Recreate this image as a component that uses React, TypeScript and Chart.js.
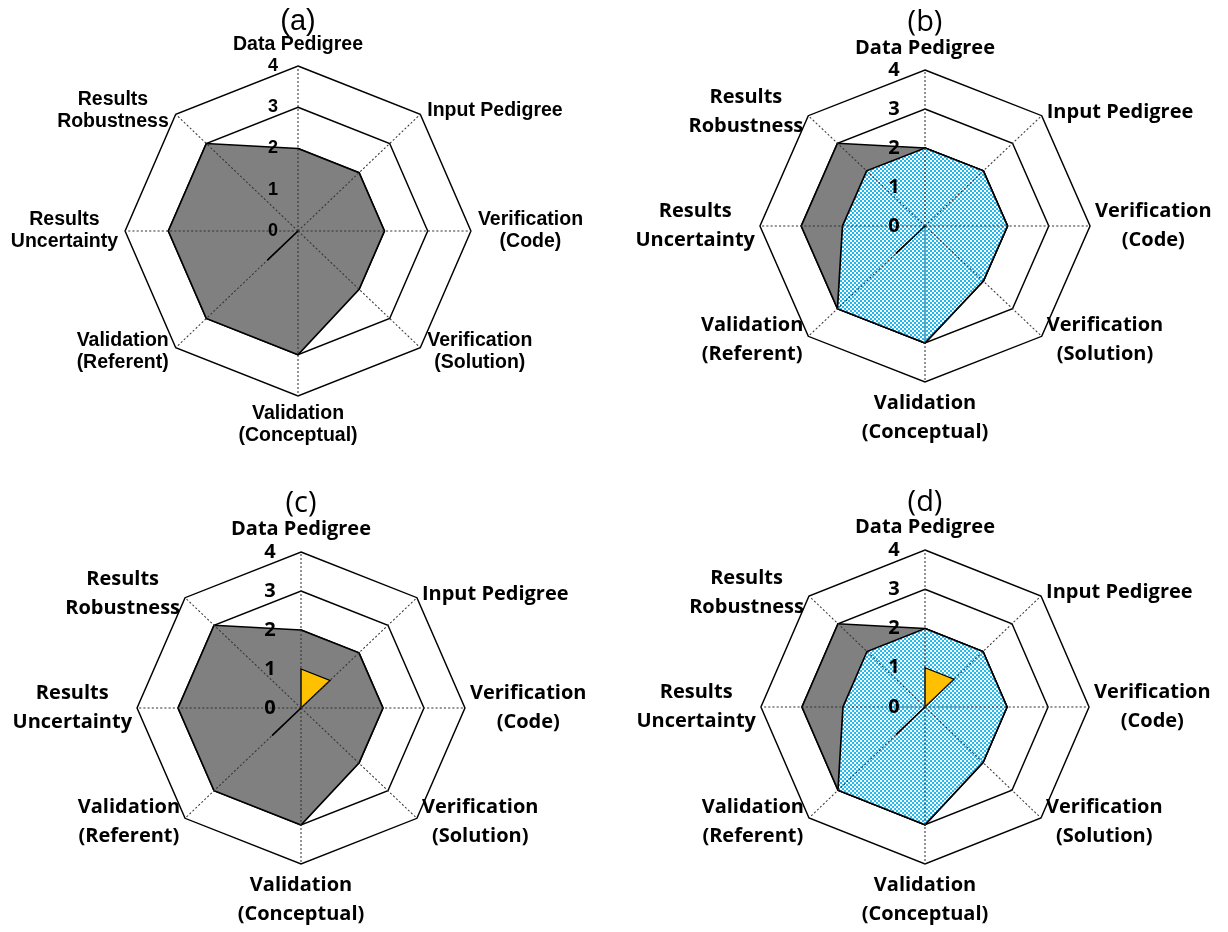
import React, { useEffect, useRef } from 'react';
import { Chart, registerables } from 'chart.js';

Chart.register(...registerables);

// ---------- data ----------
const CATEGORIES: string[][] = [
  ['Data Pedigree'],
  ['Input Pedigree'],
  ['Verification', '(Code)'],
  ['Verification', '(Solution)'],
  ['Validation', '(Conceptual)'],
  ['Validation', '(Referent)'],
  ['Results', 'Uncertainty'],
  ['Results', 'Robustness'],
];
const TICK_VALUES = [0, 1, 2, 3, 4];
const TICK_LABELS = ['0', '1', '2', '3', '4'];
const GREY_SERIES = [2, 2, 2, 2, 3, 3, 3, 3];
const BLUE_SERIES = [2, 2, 2, 2, 3, 3, 2, 2];
const YELLOW_SERIES = [1, 1, 0, 0, 0, 0, 0, 0];
const REFERENT_LINE = [0, 0, 0, 0, 0, 1, 0, 0];
const PANEL_TITLES = ['(a)', '(b)', '(c)', '(d)'];
const PANEL_SERIES: string[][] = [
  ['grey'],
  ['grey', 'blue'],
  ['grey', 'yellow'],
  ['grey', 'blue', 'yellow'],
];

// ---------- layout / style ----------
type Panel = {
  ox: number; oy: number; cx: number; cy: number; rv: number; sx: number;
  family: string; labelSize: number; lineH: number; topOff: number; botOff: number;
  gap: number; dyK: number; tickSize: number; tickDx: number;
  titleFamily: string; titleSize: number; titleY: number;
};
const W = 614;
const H = 466;
const ARIAL = '"Liberation Sans", Arial, sans-serif';
const CAL = '"Open Sans", "Noto Sans", sans-serif';
const PANELS: Panel[] = [
  { ox: 0, oy: 0, cx: 298, cy: 231, rv: 165, sx: 1.048, family: ARIAL, labelSize: 19.5, lineH: 22, topOff: 21, botOff: 18, gap: 7, dyK: 5, tickSize: 18, tickDx: -25, titleFamily: ARIAL, titleSize: 29, titleY: 21.5 },
  { ox: 614, oy: 0, cx: 925, cy: 226, rv: 156, sx: 1.058, family: CAL, labelSize: 20, lineH: 29, topOff: 22, botOff: 21, gap: 5, dyK: 5, tickSize: 20, tickDx: -31, titleFamily: CAL, titleSize: 29, titleY: 23 },
  { ox: 0, oy: 466, cx: 301, cy: 708, rv: 156, sx: 1.051, family: CAL, labelSize: 20, lineH: 29, topOff: 23, botOff: 21, gap: 5, dyK: 5, tickSize: 20, tickDx: -31, titleFamily: CAL, titleSize: 29, titleY: 503.5 - 466 },
  { ox: 614, oy: 466, cx: 925, cy: 707, rv: 157, sx: 1.045, family: CAL, labelSize: 20, lineH: 29, topOff: 23, botOff: 21, gap: 5, dyK: 5, tickSize: 20, tickDx: -31, titleFamily: CAL, titleSize: 29, titleY: 503 - 466 },
];

function makePattern(ctx: CanvasRenderingContext2D, sx: number): CanvasPattern | string {
  const pc = document.createElement('canvas');
  pc.width = 4;
  pc.height = 4;
  const g = pc.getContext('2d');
  if (!g) return '#33C5F3';
  g.fillStyle = '#ffffff';
  g.fillRect(0, 0, 4, 4);
  g.fillStyle = '#1FB8F0';
  g.fillRect(0, 0, 2, 2);
  g.fillRect(2, 2, 2, 2);
  const pat = ctx.createPattern(pc, 'repeat');
  if (!pat) return '#33C5F3';
  try {
    pat.setTransform(new DOMMatrix().scale(1 / sx, 1));
  } catch (e) {
    /* ignore */
  }
  return pat;
}

function RadarPanel({ idx }: { idx: number }) {
  const ref = useRef<HTMLCanvasElement | null>(null);
  const p = PANELS[idx];
  useEffect(() => {
    const canvas = ref.current;
    if (!canvas) return;
    const ctx0 = canvas.getContext('2d') as CanvasRenderingContext2D;
    const pattern = makePattern(ctx0, p.sx);
    const kinds = PANEL_SERIES[idx];

    const datasets: any[] = [
      { label: 'referent', data: REFERENT_LINE, fill: false, borderColor: '#000', borderWidth: 1.6, pointRadius: 0, backgroundColor: 'rgba(0,0,0,0)', clip: false },
    ];
    if (kinds.includes('yellow')) datasets.push({ label: 'yellow', data: YELLOW_SERIES, fill: true, backgroundColor: '#FFC000', borderColor: '#000', borderWidth: 1.3, pointRadius: 0, clip: false });
    if (kinds.includes('blue')) datasets.push({ label: 'blue', data: BLUE_SERIES, fill: true, backgroundColor: pattern, borderColor: '#000', borderWidth: 1.6, pointRadius: 0, clip: false });
    if (kinds.includes('grey')) datasets.push({ label: 'grey', data: GREY_SERIES, fill: true, backgroundColor: '#808080', borderColor: '#000', borderWidth: 1.6, pointRadius: 0, clip: false });

    const cxL = p.cx - p.ox;
    const cyL = p.cy - p.oy;

    const overlay = {
      id: 'overlay' + idx,
      beforeDraw(chart: any) {
        const s = chart.scales.r;
        const ctx = chart.ctx;
        ctx.save();
        ctx.translate(s.xCenter, 0);
        ctx.scale(p.sx, 1);
        ctx.translate(-s.xCenter, 0);
      },
      beforeDatasetDraw(chart: any, args: any) {
        if (args.index !== 0) return;
        const s = chart.scales.r;
        const ctx = chart.ctx;
        ctx.save();
        ctx.setLineDash([2, 2]);
        ctx.strokeStyle = '#333';
        ctx.lineWidth = 1;
        for (let i = 0; i < CATEGORIES.length; i++) {
          const pt = s.getPointPositionForValue(i, s.max);
          ctx.beginPath();
          ctx.moveTo(s.xCenter, s.yCenter);
          ctx.lineTo(pt.x, pt.y);
          ctx.stroke();
        }
        ctx.restore();
      },
      afterDatasetsDraw(chart: any) {
        const s = chart.scales.r;
        const ctx = chart.ctx;
        ctx.restore();
        ctx.save();
        ctx.fillStyle = '#000';
        ctx.textBaseline = 'middle';
        ctx.textAlign = 'center';
        // tick labels
        ctx.font = `bold ${p.tickSize}px ${p.family}`;
        TICK_VALUES.forEach((v, k) => {
          const d = s.getDistanceFromCenterForValue(v);
          ctx.fillText(TICK_LABELS[k], s.xCenter + p.tickDx, s.yCenter - d);
        });
        // point labels
        ctx.font = `bold ${p.labelSize}px ${p.family}`;
        const n = CATEGORIES.length;
        CATEGORIES.forEach((lines, i) => {
          const base = s.getPointPositionForValue(i, s.max);
          const x = s.xCenter + (base.x - s.xCenter) * p.sx;
          const y = base.y;
          const ang = (i * 2 * Math.PI) / n;
          const sinA = Math.sin(ang);
          const cosA = Math.cos(ang);
          const bw = Math.max(...lines.map((l) => ctx.measureText(l).width));
          const m = lines.length;
          let bx: number;
          let by0: number;
          if (Math.abs(sinA) < 0.01) {
            bx = x;
            by0 = cosA > 0 ? y - p.topOff - (m - 1) * p.lineH : y + p.botOff;
          } else {
            bx = sinA > 0 ? x + p.gap + bw / 2 : x - p.gap - bw / 2;
            const cb = y - cosA * p.dyK;
            by0 = cb - ((m - 1) * p.lineH) / 2;
          }
          lines.forEach((l, k) => ctx.fillText(l, bx, by0 + k * p.lineH));
        });
        // title
        ctx.font = `${p.titleSize}px ${p.titleFamily}`;
        ctx.fillText(PANEL_TITLES[idx], s.xCenter, p.titleY);
        ctx.restore();
      },
    };

    const chart = new Chart(canvas, {
      type: 'radar',
      data: { labels: CATEGORIES.map((c) => c.join(' ')), datasets },
      options: {
        responsive: false,
        animation: false,
        devicePixelRatio: 1,
        layout: {
          padding: {
            left: cxL - p.rv,
            top: cyL - p.rv,
            right: W - (cxL + p.rv),
            bottom: H - (cyL + p.rv),
          },
        },
        elements: { line: { tension: 0 } },
        plugins: { legend: { display: false }, tooltip: { enabled: false } },
        scales: {
          r: {
            min: 0,
            max: 4,
            ticks: { stepSize: 1, display: false },
            grid: { color: '#000', lineWidth: 1.4 },
            angleLines: { display: false },
            pointLabels: { display: false },
          },
        },
      } as any,
      plugins: [overlay as any],
    });
    return () => chart.destroy();
  }, [idx]);
  return (
    <canvas
      ref={ref}
      width={W}
      height={H}
      style={{ position: 'absolute', left: p.ox, top: p.oy, width: W, height: H }}
    />
  );
}

export default function App() {
  return (
    <div style={{ position: 'absolute', left: 0, top: 0, width: 1228, height: 932, background: '#fff' }}>
      {PANELS.map((_, i) => (
        <RadarPanel key={i} idx={i} />
      ))}
    </div>
  );
}
